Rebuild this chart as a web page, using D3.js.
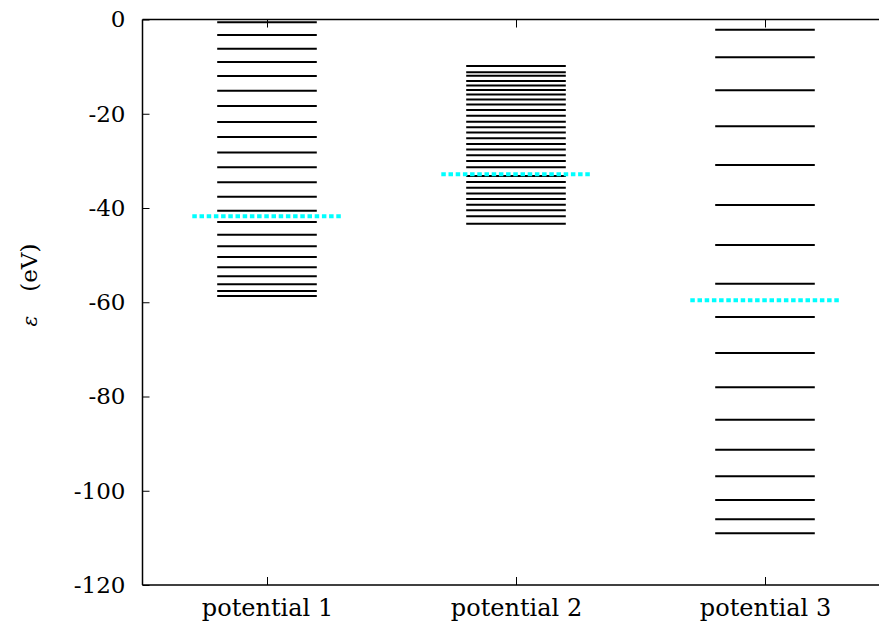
<!DOCTYPE html>
<html><head><meta charset="utf-8">
<script src="https://cdn.jsdelivr.net/npm/d3@7"></script>
<style>body{margin:0;background:#fff}svg{display:block}
svg text{font-family:"DejaVu Serif",serif;}
</style>
</head><body>
<svg id="c" width="879" height="628"></svg>
<script>
const categories = ["potential 1", "potential 2", "potential 3"];
const levels1 = [-0.59, -3.29, -6.20, -9.02, -11.99, -15.11, -18.36, -21.75, -24.93, -28.22, -31.36, -34.55, -37.60, -40.57, -42.97, -45.67, -48.13, -50.40, -52.59, -54.50, -56.20, -57.62, -58.69];
const levels2 = [-9.87, -11.20, -11.93, -13.05, -14.01, -14.96, -15.94, -16.98, -18.04, -19.20, -20.44, -21.69, -22.85, -24.00, -25.21, -26.40, -27.59, -28.82, -30.01, -31.34, -33.21, -34.48, -35.69, -36.92, -38.09, -39.30, -40.49, -41.76, -43.35];
const levels3 = [-2.16, -8.02, -15.02, -22.67, -30.88, -39.36, -47.85, -56.07, -63.13, -70.77, -78.05, -84.92, -91.29, -96.93, -101.96, -106.06, -109.03];
const fermi = [-41.76, -32.85, -59.59];
const yTicks = [0, -20, -40, -60, -80, -100, -120];

const svg = d3.select("#c");
const x = d3.scaleLinear().domain([0.5, 3.5]).range([142.5, 889.5]);
const y = d3.scaleLinear().domain([-120, 0]).range([585, 19.5]);
const FS = 23;
const FSX = 24;

// frame
const g = svg.append("g");
g.append("line").attr("x1", x(0.5)).attr("x2", x(3.5)).attr("y1", y(0)).attr("y2", y(0)).attr("stroke", "#000").attr("stroke-width", 1.5);
g.append("line").attr("x1", x(0.5)).attr("x2", x(3.5)).attr("y1", y(-120)).attr("y2", y(-120)).attr("stroke", "#000").attr("stroke-width", 1.5);
g.append("line").attr("x1", x(0.5)).attr("x2", x(0.5)).attr("y1", y(0)).attr("y2", y(-120)).attr("stroke", "#000").attr("stroke-width", 1.5);

// y axis
const yAxis = d3.axisLeft(y).tickValues(yTicks).tickSize(-7).tickPadding(17).tickFormat(d => String(d));
const ya = svg.append("g").attr("transform", `translate(${x(0.5)},0)`).call(yAxis);
ya.attr("font-family", null).attr("font-size", null);
ya.select(".domain").remove();
ya.selectAll("text").style("font-size", FS + "px").attr("fill", "#000");
ya.selectAll("line").attr("stroke", "#000").attr("stroke-width", 1);

// x axis bottom and top mirror
const xAxis = d3.axisBottom(x).tickValues([1, 2, 3]).tickSize(-8).tickPadding(14).tickFormat((d, i) => categories[i]);
const xa = svg.append("g").attr("transform", `translate(0,${y(-120)})`).call(xAxis);
xa.attr("font-family", null).attr("font-size", null);
xa.select(".domain").remove();
xa.selectAll("text").style("font-size", FSX + "px").attr("fill", "#000");
xa.selectAll("line").attr("stroke", "#000").attr("stroke-width", 1);
const xt = svg.append("g").attr("transform", `translate(0,${y(0)})`).call(d3.axisTop(x).tickValues([1, 2, 3]).tickSize(-8).tickFormat(""));
xt.select(".domain").remove();
xt.selectAll("line").attr("stroke", "#000").attr("stroke-width", 1);

// levels
const allLevels = [levels1, levels2, levels3];
allLevels.forEach((arr, i) => {
  const c = i + 1;
  svg.append("g").selectAll("line").data(arr).join("line")
    .attr("x1", x(c - 0.2)).attr("x2", x(c + 0.2))
    .attr("y1", d => y(d)).attr("y2", d => y(d))
    .attr("stroke", "#000").attr("stroke-width", 2);
});
svg.append("g").selectAll("line").data(fermi).join("line")
  .attr("x1", (d, i) => x(i + 1 - 0.3)).attr("x2", (d, i) => x(i + 1 + 0.3))
  .attr("y1", d => y(d)).attr("y2", d => y(d))
  .attr("stroke", "#00ffff").attr("stroke-width", 4).attr("stroke-dasharray", "4.5,2.7");

// y label
const yl = svg.append("text").attr("transform", `translate(37,285) rotate(-90)`)
  .attr("text-anchor", "middle").style("font-size", FS + "px").attr("fill", "#000");
yl.append("tspan").style("font-style", "italic").style("font-size", "20px").text("ε");
yl.append("tspan").attr("dx", 24).text("(eV)");
</script>
</body></html>
